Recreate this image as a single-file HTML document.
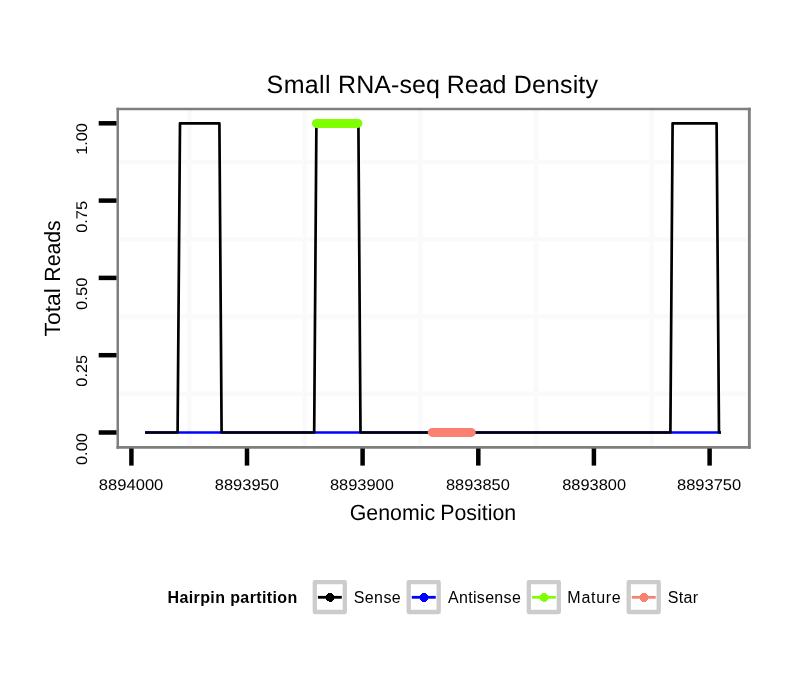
<!DOCTYPE html>
<html><head><meta charset="utf-8"><style>
html,body{margin:0;padding:0;background:#fff;width:810px;height:690px;overflow:hidden}
svg{display:block;font-family:"Liberation Sans",sans-serif;will-change:transform}
text{fill:#000;text-rendering:geometricPrecision}
</style></head><body>
<svg width="810" height="690" viewBox="0 0 810 690">
<rect width="810" height="690" fill="#fff"/>
<line x1="189.20" y1="109.3" x2="189.20" y2="447.35" stroke="#fafafa" stroke-width="4.6"/>
<line x1="304.80" y1="109.3" x2="304.80" y2="447.35" stroke="#fafafa" stroke-width="4.6"/>
<line x1="420.45" y1="109.3" x2="420.45" y2="447.35" stroke="#fafafa" stroke-width="4.6"/>
<line x1="536.10" y1="109.3" x2="536.10" y2="447.35" stroke="#fafafa" stroke-width="4.6"/>
<line x1="651.75" y1="109.3" x2="651.75" y2="447.35" stroke="#fafafa" stroke-width="4.6"/>
<line x1="117.8" y1="393.85" x2="749.5" y2="393.85" stroke="#fafafa" stroke-width="4.6"/>
<line x1="117.8" y1="316.55" x2="749.5" y2="316.55" stroke="#fafafa" stroke-width="4.6"/>
<line x1="117.8" y1="239.25" x2="749.5" y2="239.25" stroke="#fafafa" stroke-width="4.6"/>
<line x1="117.8" y1="161.95" x2="749.5" y2="161.95" stroke="#fafafa" stroke-width="4.6"/>
<line x1="145" y1="432.5" x2="720.9" y2="432.5" stroke="#0000ff" stroke-width="2.7"/>
<path d="M145,432.5 L177.6,432.5 L180,123.3 L219.4,123.3 L221.6,432.5 L314.2,432.5 L316.4,123.3 L358.4,123.3 L360.5,432.5 L670.4,432.5 L672.6,123.3 L716.6,123.3 L719,432.5 L720.9,432.5" fill="none" stroke="#000" stroke-width="2.7" stroke-linejoin="round"/>
<line x1="316.4" y1="123.4" x2="357.9" y2="123.4" stroke="#7fff00" stroke-width="9" stroke-linecap="round"/>
<line x1="432.3" y1="432.4" x2="471.2" y2="432.4" stroke="#fa8072" stroke-width="9" stroke-linecap="round"/>
<line x1="116.5" y1="109.1" x2="750.75" y2="109.1" stroke="#7f7f7f" stroke-width="2.5"/>
<line x1="116.5" y1="447.35" x2="750.75" y2="447.35" stroke="#7f7f7f" stroke-width="2.85"/>
<line x1="117.75" y1="107.85" x2="117.75" y2="448.75" stroke="#7f7f7f" stroke-width="2.5"/>
<line x1="749.35" y1="107.85" x2="749.35" y2="448.75" stroke="#7f7f7f" stroke-width="2.85"/>
<line x1="98.7" y1="432.50" x2="116.5" y2="432.50" stroke="#000" stroke-width="4.5"/>
<line x1="98.7" y1="355.20" x2="116.5" y2="355.20" stroke="#000" stroke-width="4.5"/>
<line x1="98.7" y1="277.90" x2="116.5" y2="277.90" stroke="#000" stroke-width="4.5"/>
<line x1="98.7" y1="200.60" x2="116.5" y2="200.60" stroke="#000" stroke-width="4.5"/>
<line x1="98.7" y1="123.30" x2="116.5" y2="123.30" stroke="#000" stroke-width="4.5"/>
<line x1="131.4" y1="448.5" x2="131.4" y2="465.6" stroke="#000" stroke-width="4.5"/>
<line x1="247.0" y1="448.5" x2="247.0" y2="465.6" stroke="#000" stroke-width="4.5"/>
<line x1="362.6" y1="448.5" x2="362.6" y2="465.6" stroke="#000" stroke-width="4.5"/>
<line x1="478.3" y1="448.5" x2="478.3" y2="465.6" stroke="#000" stroke-width="4.5"/>
<line x1="593.9" y1="448.5" x2="593.9" y2="465.6" stroke="#000" stroke-width="4.5"/>
<line x1="709.6" y1="448.5" x2="709.6" y2="465.6" stroke="#000" stroke-width="4.5"/>
<rect x="314.8" y="582.2" width="30" height="29.8" fill="#fff" stroke="#cccccc" stroke-width="4.3" stroke-linejoin="round"/>
<line x1="317.90000000000003" y1="597.3000000000001" x2="341.8" y2="597.3000000000001" stroke="#000000" stroke-width="2.8"/>
<circle cx="330.1" cy="597.4" r="4.4" fill="#000000" shape-rendering="crispEdges"/>
<rect x="408.7" y="582.2" width="30" height="29.8" fill="#fff" stroke="#cccccc" stroke-width="4.3" stroke-linejoin="round"/>
<line x1="411.8" y1="597.3000000000001" x2="435.7" y2="597.3000000000001" stroke="#0000ff" stroke-width="2.8"/>
<circle cx="424.0" cy="597.4" r="4.4" fill="#0000ff" shape-rendering="crispEdges"/>
<rect x="528.8" y="582.2" width="30" height="29.8" fill="#fff" stroke="#cccccc" stroke-width="4.3" stroke-linejoin="round"/>
<line x1="531.9" y1="597.3000000000001" x2="555.8" y2="597.3000000000001" stroke="#7fff00" stroke-width="2.8"/>
<circle cx="544.0999999999999" cy="597.4" r="4.4" fill="#7fff00" shape-rendering="crispEdges"/>
<rect x="628.7" y="582.2" width="30" height="29.8" fill="#fff" stroke="#cccccc" stroke-width="4.3" stroke-linejoin="round"/>
<line x1="631.8000000000001" y1="597.3000000000001" x2="655.7" y2="597.3000000000001" stroke="#fa8072" stroke-width="2.8"/>
<circle cx="644.0" cy="597.4" r="4.4" fill="#fa8072" shape-rendering="crispEdges"/>
<text x="266.59" y="93.00" font-size="25" textLength="64.02" lengthAdjust="spacing">Small</text>
<text x="338.02" y="93.00" font-size="25" textLength="101.91" lengthAdjust="spacing">RNA-seq</text>
<text x="446.84" y="93.00" font-size="25" textLength="59.51" lengthAdjust="spacing">Read</text>
<text x="513.82" y="93.00" font-size="25" textLength="84.11" lengthAdjust="spacing">Density</text>
<text x="349.81" y="520.00" font-size="22" textLength="85.29" lengthAdjust="spacingAndGlyphs">Genomic</text>
<text x="440.26" y="520.00" font-size="22" textLength="75.91" lengthAdjust="spacingAndGlyphs">Position</text>
<text transform="translate(60.00,336.41) rotate(-90)" font-size="22" textLength="48.21" lengthAdjust="spacingAndGlyphs">Total</text>
<text transform="translate(60.00,281.65) rotate(-90)" font-size="22" textLength="61.39" lengthAdjust="spacingAndGlyphs">Reads</text>
<text x="98.89" y="490.00" font-size="15.5" textLength="64.42" lengthAdjust="spacingAndGlyphs">8894000</text>
<text x="214.87" y="490.00" font-size="15.5" textLength="63.92" lengthAdjust="spacingAndGlyphs">8893950</text>
<text x="329.91" y="490.00" font-size="15.5" textLength="63.95" lengthAdjust="spacingAndGlyphs">8893900</text>
<text x="446.03" y="490.00" font-size="15.5" textLength="63.74" lengthAdjust="spacingAndGlyphs">8893850</text>
<text x="562.26" y="490.00" font-size="15.5" textLength="63.78" lengthAdjust="spacingAndGlyphs">8893800</text>
<text x="677.02" y="490.00" font-size="15.5" textLength="64.20" lengthAdjust="spacingAndGlyphs">8893750</text>
<text transform="translate(87.00,465.04) rotate(-90)" font-size="15.5" textLength="31.92" lengthAdjust="spacingAndGlyphs">0.00</text>
<text transform="translate(87.00,386.65) rotate(-90)" font-size="15.5" textLength="31.71" lengthAdjust="spacingAndGlyphs">0.25</text>
<text transform="translate(87.00,309.96) rotate(-90)" font-size="15.5" textLength="32.40" lengthAdjust="spacingAndGlyphs">0.50</text>
<text transform="translate(87.00,232.81) rotate(-90)" font-size="15.5" textLength="31.87" lengthAdjust="spacingAndGlyphs">0.75</text>
<text transform="translate(87.00,154.86) rotate(-90)" font-size="15.5" textLength="31.69" lengthAdjust="spacingAndGlyphs">1.00</text>
<text x="167.52" y="603.00" font-size="16" font-weight="bold" style="text-rendering:auto" textLength="129.75" lengthAdjust="spacing">Hairpin partition</text>
<text x="353.65" y="603.00" font-size="16" style="text-rendering:auto" textLength="47.07" lengthAdjust="spacing">Sense</text>
<text x="447.99" y="603.00" font-size="16" style="text-rendering:auto" textLength="72.81" lengthAdjust="spacing">Antisense</text>
<text x="567.36" y="603.00" font-size="16" style="text-rendering:auto" textLength="53.40" lengthAdjust="spacing">Mature</text>
<text x="667.72" y="603.00" font-size="16" style="text-rendering:auto" textLength="30.24" lengthAdjust="spacing">Star</text>
</svg>
</body></html>
